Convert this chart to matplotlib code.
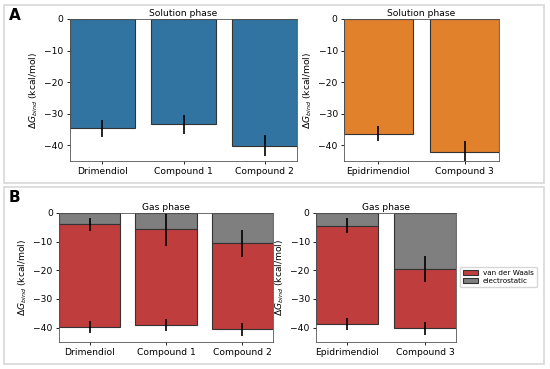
import matplotlib
matplotlib.use("Agg")
import matplotlib.pyplot as plt
from matplotlib.patches import Rectangle, Patch

plt.rcParams["font.family"] = ["DejaVu Sans"]
plt.rcParams["font.size"] = 6.6
plt.rcParams["axes.titlesize"] = 6.6

# solution phase
sol_left_names = ["Drimendiol", "Compound 1", "Compound 2"]
sol_left_vals = [-34.7, -33.4, -40.1]
sol_left_err = [2.8, 3.1, 3.4]
sol_right_names = ["Epidrimendiol", "Compound 3"]
sol_right_vals = [-36.3, -42.1]
sol_right_err = [2.4, 3.3]

# gas phase: electrostatic part and total (elec + vdW)
gas_left_elec = [-3.9, -5.6, -10.6]
gas_left_elec_err = [2.3, 5.8, 4.7]
gas_left_total = [-39.8, -39.2, -40.5]
gas_left_total_err = [2.0, 2.1, 2.3]
gas_right_elec = [-4.5, -19.4]
gas_right_elec_err = [2.6, 4.5]
gas_right_total = [-38.8, -40.2]
gas_right_total_err = [2.0, 2.3]

blue = "#3274a1"
orange = "#e1812c"
red = "#c03d3e"
gray = "#7f7f7f"
ylab = r"$\Delta G_{bind}$ (kcal/mol)"

W, H = 550, 369
fig = plt.figure(figsize=(5.5, 3.69), dpi=100)

def ax_px(x0, y0, x1, y1):
    return fig.add_axes([x0 / W, 1 - y1 / H, (x1 - x0) / W, (y1 - y0) / H])

for (y0, y1) in [(5, 183), (187, 364)]:
    fig.patches.append(Rectangle((4 / W, 1 - y1 / H), 540 / W, (y1 - y0) / H,
                                 transform=fig.transFigure, fill=False,
                                 ec="#d8d8d8", lw=1.2))

def style(ax, names, title):
    ax.set_xticks(list(range(len(names))), names)
    ax.set_xlim(-0.4, len(names) - 0.6)
    ax.set_ylim(-45, 0)
    ax.set_yticks([0, -10, -20, -30, -40])
    ax.set_ylabel(ylab, labelpad=3)
    ax.set_title(title, pad=2)
    ax.tick_params(length=2.5, width=0.6, pad=2)
    for s in ax.spines.values():
        s.set_linewidth(0.6)
        s.set_color("#555555")

def sol_ax(ax, names, vals, err, color):
    x = range(len(names))
    ax.bar(x, vals, width=0.8, color=color, ec="#333333", lw=0.8)
    ax.errorbar(x, vals, yerr=err, fmt="none", ecolor="black", elinewidth=1.2)
    style(ax, names, "Solution phase")

def gas_ax(ax, names, elec, elec_err, total, total_err):
    x = range(len(names))
    vdw = [t - e for t, e in zip(total, elec)]
    ax.bar(x, elec, width=0.8, color=gray, ec="#333333", lw=0.8)
    ax.bar(x, vdw, bottom=elec, width=0.8, color=red, ec="#333333", lw=0.8)
    ax.errorbar(x, elec, yerr=elec_err, fmt="none", ecolor="black", elinewidth=1.2)
    ax.errorbar(x, total, yerr=total_err, fmt="none", ecolor="black", elinewidth=1.2)
    style(ax, names, "Gas phase")

a1 = ax_px(70, 19, 297, 161)
sol_ax(a1, sol_left_names, sol_left_vals, sol_left_err, blue)
a2 = ax_px(344, 19, 499, 161)
sol_ax(a2, sol_right_names, sol_right_vals, sol_right_err, orange)
b1 = ax_px(59, 213, 273, 342)
gas_ax(b1, sol_left_names, gas_left_elec, gas_left_elec_err, gas_left_total, gas_left_total_err)
b2 = ax_px(316, 213, 456, 342)
gas_ax(b2, sol_right_names, gas_right_elec, gas_right_elec_err, gas_right_total, gas_right_total_err)

handles = [Patch(fc=red, ec="#333333", lw=0.8, label="van der Waals"),
           Patch(fc=gray, ec="#333333", lw=0.8, label="electrostatic")]
fig.legend(handles=handles, loc="center left", bbox_to_anchor=(460 / W, 1 - 277 / H),
           fontsize=5.2, handlelength=2.1, handleheight=0.8, borderpad=0.45,
           handletextpad=0.6, labelspacing=0.25, borderaxespad=0)

fig.text(9 / W, 1 - 15 / H, "A", fontsize=11, fontweight="bold", va="center")
fig.text(9 / W, 1 - 198 / H, "B", fontsize=11, fontweight="bold", va="center")

fig.savefig("out.png", dpi=100)
